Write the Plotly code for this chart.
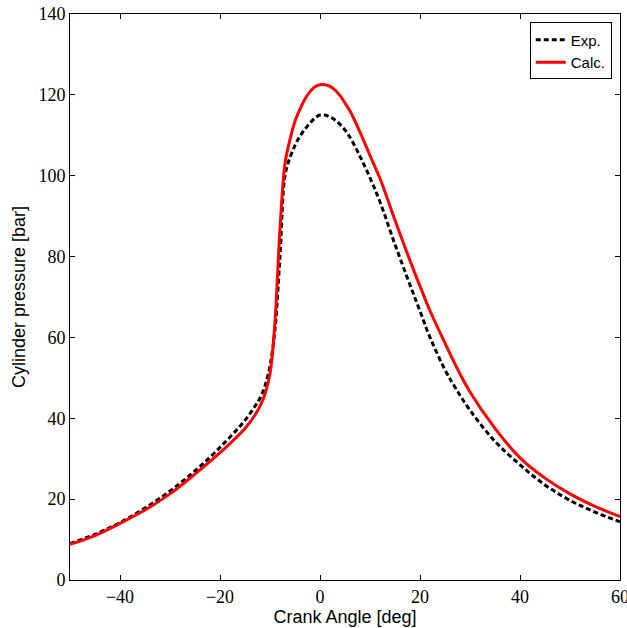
import plotly.graph_objects as go

angles = [-50, -45, -40, -35, -30, -25, -20, -15, -13, -12, -11, -10, -9, -8, -7, -6, -5,
          -4, -3, -2, -1, 0, 1, 2, 3, 4, 5, 6, 8, 10, 12, 15, 18, 20, 22, 25, 27, 30, 35,
          40, 45, 50, 55, 60]

exp_p = [9.0, 11.3, 14.2, 17.8, 22.0, 27.0, 32.8, 39.5, 43.0, 45.0, 48.0, 53.0, 62.0,
         80.0, 100.0, 104.5, 107.5, 109.8, 111.5, 113.0, 114.3, 115.0, 115.0, 114.5,
         113.8, 112.7, 111.3, 109.5, 104.8, 99.5, 93.5, 83.0, 73.0, 66.5, 60.0,
         52.0, 47.7, 42.0, 34.3, 28.5, 23.5, 19.7, 16.8, 14.4]

calc_p = [8.8, 11.0, 14.0, 17.3, 21.3, 26.2, 31.5, 37.5, 40.8, 43.0, 46.0, 51.0, 64.0,
          87.0, 103.0, 109.0, 113.5, 116.5, 119.0, 120.8, 122.0, 122.5, 122.5, 122.1,
          121.2, 119.8, 118.0, 116.0, 110.8, 105.0, 99.3, 89.0, 79.0, 72.7, 66.6,
          58.6, 53.4, 46.5, 37.5, 30.2, 25.2, 21.3, 18.2, 15.7]

fig = go.Figure()
fig.add_trace(go.Scatter(x=angles, y=exp_p, mode="lines", name="Exp.",
                         line=dict(color="black", width=3, dash="5px,3px", shape="spline")))
fig.add_trace(go.Scatter(x=angles, y=calc_p, mode="lines", name="Calc.",
                         line=dict(color="red", width=3, shape="spline")))

axis_common = dict(showline=True, linecolor="black", linewidth=1, mirror="allticks",
                   ticks="inside", ticklen=5, tickcolor="black", showgrid=False,
                   zeroline=False, automargin=False, ticklabeloverflow="allow",
                   tickfont=dict(family="Liberation Serif", size=18, color="black"))

fig.update_layout(
    width=627, height=628,
    margin=dict(l=70, r=7, t=14, b=48),
    plot_bgcolor="white", paper_bgcolor="white",
    xaxis=dict(range=[-50, 60], tickvals=[-40, -20, 0, 20, 40, 60],
               title=dict(text="Crank Angle [deg]", standoff=2,
                          font=dict(family="Liberation Sans", size=18, color="black")),
               **axis_common),
    yaxis=dict(range=[0, 140], tickvals=[0, 20, 40, 60, 80, 100, 120, 140],
               title=dict(text="Cylinder pressure [bar]", standoff=8,
                          font=dict(family="Liberation Sans", size=18, color="black")),
               **axis_common),
    legend=dict(x=0.985, y=0.985, xanchor="right", yanchor="top",
                bordercolor="black", borderwidth=1, bgcolor="white",
                font=dict(family="Liberation Sans", size=15, color="black"),
                tracegroupgap=0),
    showlegend=True,
)

fig.write_html("out.html", config={"displayModeBar": False},
               post_script="document.body.style.margin='0';document.body.style.overflow='hidden';")
